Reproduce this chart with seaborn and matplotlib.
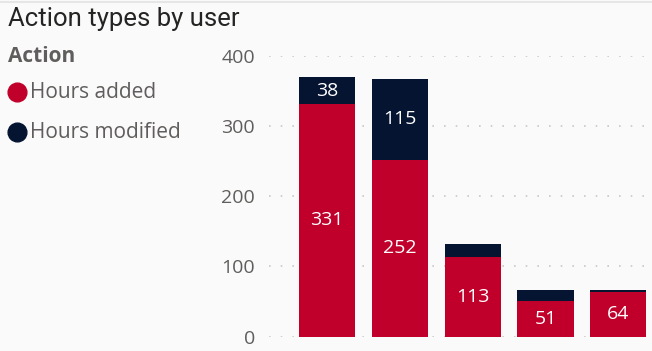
import matplotlib
matplotlib.use("Agg")
import matplotlib.pyplot as plt
from matplotlib.lines import Line2D
import seaborn as sns
import pandas as pd

users = ["User 1", "User 2", "User 3", "User 4", "User 5"]
hours_added = [331, 252, 113, 51, 64]
hours_modified = [38, 115, 19, 16, 3]
y_ticks = [0, 100, 200, 300, 400]
legend_title = "Action"
series_names = ["Hours added", "Hours modified"]

RED = "#C0002A"
NAVY = "#051431"
GREY = "#605E5C"
BG = "#FAFAFA"

sns.set_theme(style="white")
plt.rcParams["font.family"] = ["Open Sans", "DejaVu Sans"]

df = pd.DataFrame({"user": users, "added": hours_added, "modified": hours_modified})
df["total"] = df["added"] + df["modified"]

W, H = 652, 351
fig = plt.figure(figsize=(W / 100, H / 100), dpi=100, facecolor=BG)
ax = fig.add_axes([269 / W, 1 - 336.7 / H, (648 - 269) / W, (336.7 - 55.7) / H])
ax.set_facecolor(BG)

sns.barplot(data=df, x="user", y="total", color=NAVY, saturation=1, width=0.774,
            linewidth=0, ax=ax, zorder=3)
sns.barplot(data=df, x="user", y="added", color=RED, saturation=1, width=0.774,
            linewidth=0, ax=ax, zorder=3)

ax.set_ylim(0, 400)
ax.set_xlim(-0.8, 4.41)
ax.set_yticks(y_ticks)
ax.set_yticklabels([str(t) for t in y_ticks], color=GREY, fontsize=14)
ax.tick_params(axis="y", length=0, pad=10)
ax.set_xticks([])
ax.set_xlabel("")
ax.set_ylabel("")
for s in ax.spines.values():
    s.set_visible(False)
ax.yaxis.grid(True, color="#C8C8C8", linestyle=(0, (1, 6)), linewidth=1.2, zorder=0)
ax.set_axisbelow(True)

# labels
cont_total, cont_added = ax.containers[0], ax.containers[1]
for bar, m, a in zip(cont_total, hours_modified, hours_added):
    if m >= 30:
        ax.text(bar.get_x() + bar.get_width() / 2, a + m / 2, str(m), ha="center",
                va="center", color="white", fontsize=14, zorder=5)
ax.bar_label(cont_added, labels=[str(v) for v in hours_added], label_type="center",
             color="white", fontsize=14, zorder=5)

# title
fig.text(8 / W, 1 - 19 / H, "Action types by user", fontsize=18.5, color="#252423",
         ha="left", va="center", family=["Roboto", "DejaVu Sans"])

# legend (manual)
fig.text(8 / W, 1 - 56 / H, legend_title, fontsize=15, fontweight="bold", color=GREY,
         ha="left", va="center")
for name, col, yp in zip(series_names, [RED, NAVY], [92, 132]):
    fig.add_artist(Line2D([17 / W], [1 - yp / H], marker="o", markersize=13.5, color=col,
                          linestyle="", transform=fig.transFigure))
    fig.text(30 / W, 1 - yp / H, name, fontsize=15, color=GREY, ha="left", va="center")

fig.add_artist(Line2D([0, 1], [1 - 1.5 / H, 1 - 1.5 / H], color="#E6E6E6", linewidth=1.5,
                      transform=fig.transFigure))

fig.savefig("out.png", dpi=100, facecolor=BG)
